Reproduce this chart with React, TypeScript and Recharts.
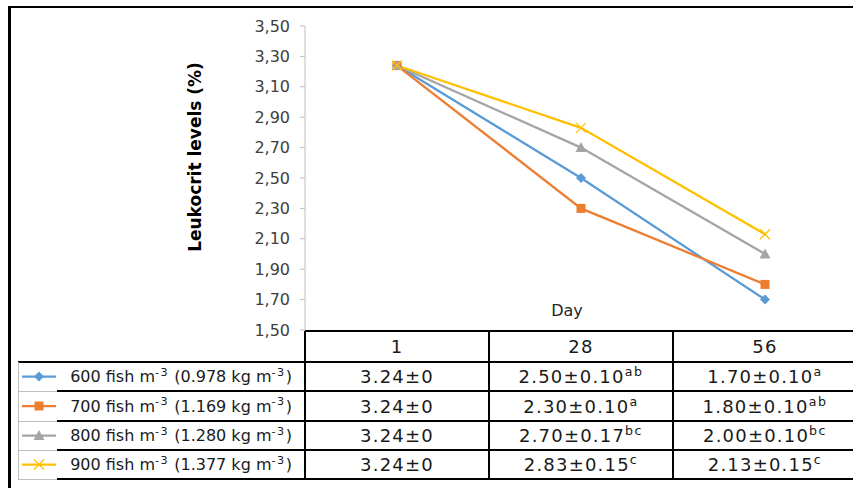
import React from "react";
import { Line, LineChart, XAxis, YAxis } from "recharts";

// categories (days) and series values
const days = ["1", "28", "56"];
const values600 = [3.24, 2.5, 1.7];
const values700 = [3.24, 2.3, 1.8];
const values800 = [3.24, 2.7, 2.0];
const values900 = [3.24, 2.83, 2.13];

// standard deviations and significance letters shown in the data table
const sd600 = ["0", "0.10", "0.10"];
const sd700 = ["0", "0.10", "0.10"];
const sd800 = ["0", "0.17", "0.10"];
const sd900 = ["0", "0.15", "0.15"];
const sig600 = ["", "ab", "a"];
const sig700 = ["", "a", "ab"];
const sig800 = ["", "bc", "bc"];
const sig900 = ["", "c", "c"];

const yTicks = [1.5, 1.7, 1.9, 2.1, 2.3, 2.5, 2.7, 2.9, 3.1, 3.3, 3.5];

const series = [
  { key: "d600", fish: "600", kg: "0.978", color: "#5B9BD5", shape: "diamond", values: values600, sd: sd600, sig: sig600 },
  { key: "d700", fish: "700", kg: "1.169", color: "#ED7D31", shape: "square", values: values700, sd: sd700, sig: sig700 },
  { key: "d800", fish: "800", kg: "1.280", color: "#A5A5A5", shape: "triangle", values: values800, sd: sd800, sig: sig800 },
  { key: "d900", fish: "900", kg: "1.377", color: "#FFC000", shape: "x", values: values900, sd: sd900, sig: sig900 },
];

const data = days.map((day, i) => {
  const row: Record<string, string | number> = { day };
  series.forEach((s) => (row[s.key] = s.values[i]));
  return row;
});

const FONT = "'DejaVu Sans', Verdana, sans-serif";

function Marker({ cx, cy, shape, color }: { cx: number; cy: number; shape: string; color: string }) {
  if (cx == null || cy == null) return null;
  if (shape === "diamond")
    return <polygon points={`${cx},${cy - 5} ${cx + 5},${cy} ${cx},${cy + 5} ${cx - 5},${cy}`} fill={color} />;
  if (shape === "square") return <rect x={cx - 4.5} y={cy - 4.5} width={9} height={9} fill={color} />;
  if (shape === "triangle")
    return <polygon points={`${cx},${cy - 5.5} ${cx + 5.5},${cy + 4.5} ${cx - 5.5},${cy + 4.5}`} fill={color} />;
  return (
    <g stroke={color} strokeWidth={1.3}>
      <line x1={cx - 5} y1={cy - 5} x2={cx + 5} y2={cy + 5} />
      <line x1={cx - 5} y1={cy + 5} x2={cx + 5} y2={cy - 5} />
    </g>
  );
}

const colX = [305, 489, 673, 857];
const rowY = [331, 362, 391, 421, 450, 479];

const hLine = (x1: number, x2: number, y: number, color = "#000", t = 2) => (
  <div
    key={`h${x1}-${y}-${color}`}
    style={{ position: "absolute", left: x1, top: y - t / 2, width: x2 - x1, height: t, background: color }}
  />
);
const vLine = (x: number, y1: number, y2: number, color = "#000", t = 2) => (
  <div
    key={`v${x}-${y1}-${color}`}
    style={{ position: "absolute", left: x - t / 2, top: y1, width: t, height: y2 - y1, background: color }}
  />
);

const Sup = ({ children }: { children: React.ReactNode }) => (
  <span style={{ fontSize: "0.7em", position: "relative", top: "-0.55em", letterSpacing: 1.5 }}>{children}</span>
);

export default function App() {
  return (
    <div
      style={{
        position: "absolute",
        left: 0,
        top: 0,
        width: 853,
        height: 488,
        overflow: "hidden",
        background: "#fff",
        fontFamily: FONT,
        color: "#000",
      }}
    >
      {/* outer frame */}
      <div
        style={{
          position: "absolute",
          left: 8,
          top: 6,
          width: 900,
          height: 600,
          borderTop: "2px solid #000",
          borderLeft: "3px solid #000",
        }}
      />

      <div style={{ position: "absolute", left: 0, top: 0 }}>
        <LineChart width={870} height={340} data={data} margin={{ top: 26, right: 13, bottom: 10, left: 0 }}>
          <XAxis dataKey="day" scale="band" height={0} tick={false} tickLine={false} axisLine={{ stroke: "#BFBFBF" }} />
          <YAxis
            width={305}
            domain={[1.5, 3.5]}
            ticks={yTicks}
            interval={0}
            tickFormatter={(v: number) => v.toFixed(2).replace(".", ",")}
            axisLine={{ stroke: "#BFBFBF" }}
            tickLine={{ stroke: "#BFBFBF" }}
            tickSize={5}
            tickMargin={10}
            tick={{ fill: "#404040", fontSize: 16, fontFamily: FONT }}
          />
          {series.map((s) => (
            <Line
              key={s.key}
              dataKey={s.key}
              stroke={s.color}
              strokeWidth={2.25}
              isAnimationActive={false}
              dot={(p: any) => <Marker key={`${s.key}-${p.index}`} cx={p.cx} cy={p.cy} shape={s.shape} color={s.color} />}
              activeDot={false}
            />
          ))}
        </LineChart>
      </div>

      {/* y axis title */}
      <div
        style={{
          position: "absolute",
          left: 195,
          top: 157,
          transform: "translate(-50%, -50%) rotate(-90deg)",
          whiteSpace: "nowrap",
          fontWeight: "bold",
          fontSize: 17,
        }}
      >
        Leukocrit levels (%)
      </div>

      {/* x axis title */}
      <div
        style={{
          position: "absolute",
          left: 567,
          top: 310,
          transform: "translate(-50%, -50%)",
          fontSize: 16,
          color: "#262626",
        }}
      >
        Day
      </div>

      {/* data table header */}
      {days.map((d, i) => (
        <div
          key={`hd${d}`}
          style={{
            position: "absolute",
            left: colX[i],
            top: rowY[0],
            width: colX[i + 1] - colX[i],
            height: rowY[1] - rowY[0],
            display: "flex",
            alignItems: "center",
            justifyContent: "center",
            fontSize: 18,
            letterSpacing: 1.2,
            color: "#1a1a1a",
          }}
        >
          {d}
        </div>
      ))}

      {/* data table rows */}
      {series.map((s, r) => (
        <React.Fragment key={`row${s.key}`}>
          <svg
            style={{ position: "absolute", left: 18, top: rowY[r + 1] }}
            width={39}
            height={rowY[r + 2] - rowY[r + 1]}
          >
            <line x1={4} x2={38} y1={(rowY[r + 2] - rowY[r + 1]) / 2} y2={(rowY[r + 2] - rowY[r + 1]) / 2} stroke={s.color} strokeWidth={2.25} />
            <Marker cx={21} cy={(rowY[r + 2] - rowY[r + 1]) / 2} shape={s.shape} color={s.color} />
          </svg>
          <div
            style={{
              position: "absolute",
              left: 57,
              top: rowY[r + 1],
              width: 248,
              height: rowY[r + 2] - rowY[r + 1],
              display: "flex",
              alignItems: "center",
              justifyContent: "center",
              fontSize: 16,
              whiteSpace: "nowrap",
              color: "#1a1a1a",
            }}
          >
            <span>
              {s.fish} fish m<Sup>-3</Sup> ({s.kg} kg m<Sup>-3</Sup>)
            </span>
          </div>
          {s.values.map((v, i) => (
            <div
              key={`c${s.key}${i}`}
              style={{
                position: "absolute",
                left: colX[i],
                top: rowY[r + 1],
                width: colX[i + 1] - colX[i],
                height: rowY[r + 2] - rowY[r + 1],
                display: "flex",
                alignItems: "center",
                justifyContent: "center",
                fontSize: 18,
                letterSpacing: 1.2,
                whiteSpace: "nowrap",
                color: "#1a1a1a",
              }}
            >
              <span>
                {v.toFixed(2)}±{s.sd[i]}
                {s.sig[i] ? <Sup>{s.sig[i]}</Sup> : null}
              </span>
            </div>
          ))}
        </React.Fragment>
      ))}

      {/* table grid */}
      {hLine(colX[0], 900, rowY[0])}
      {hLine(18, 900, rowY[1])}
      {[2, 3, 4, 5].map((k) => hLine(57, 900, rowY[k]))}
      {[2, 3, 4, 5].map((k) => hLine(18, 57, rowY[k], "#BFBFBF", 1))}
      {vLine(18, rowY[1], rowY[5], "#BFBFBF", 1)}
      {colX.map((x) => vLine(x, rowY[0], rowY[5] + 1))}
    </div>
  );
}
